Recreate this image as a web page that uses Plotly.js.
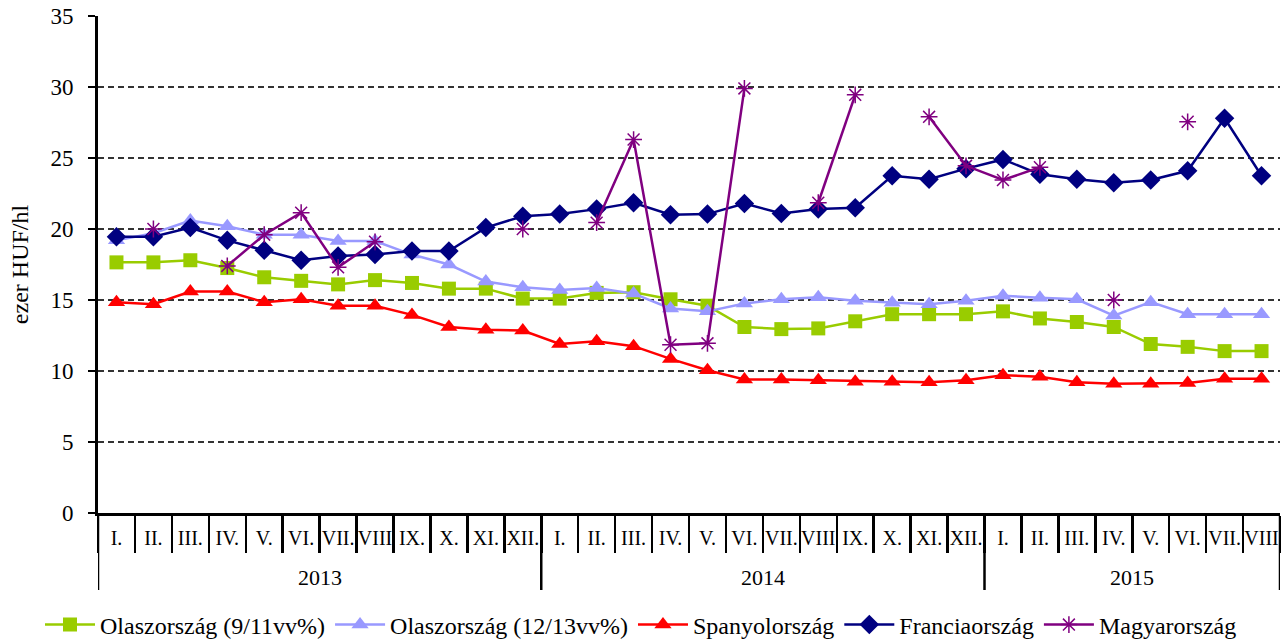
<!DOCTYPE html>
<html>
<head>
<meta charset="utf-8">
<script src="https://cdn.plot.ly/plotly-3.0.1.min.js"></script>
<style>html,body{margin:0;padding:0;background:#fff;}#chart{width:1284px;height:641px;}</style>
</head>
<body>
<div id="chart"></div>
<script>
const yearLabels = ["2013", "2014", "2015"];
const monthLabels2013 = ["I.","II.","III.","IV.","V.","VI.","VII.","VIII","IX.","X.","XI.","XII."];
const monthLabels2014 = ["I.","II.","III.","IV.","V.","VI.","VII.","VIII","IX.","X.","XI.","XII."];
const monthLabels2015 = ["I.","II.","III.","IV.","V.","VI.","VII.","VIII"];

const olasz911 = [17.65,17.65,17.8,17.25,16.6,16.35,16.1,16.4,16.2,15.8,15.8,15.1,
                  15.1,15.5,15.55,15.05,14.6,13.1,12.95,13.0,13.5,14.0,14.0,14.0,
                  14.2,13.7,13.45,13.1,11.9,11.7,11.4,11.4];
const olasz1213 = [19.2,19.7,20.6,20.2,19.6,19.6,19.15,19.15,18.2,17.5,16.3,15.9,
                   15.7,15.85,15.45,14.4,14.2,14.75,15.05,15.2,14.95,14.8,14.7,14.95,
                   15.3,15.15,15.05,13.9,14.85,14.0,14.0,14.0];
const spanyol = [14.85,14.7,15.6,15.6,14.85,15.05,14.6,14.6,13.95,13.1,12.9,12.85,
                 11.9,12.1,11.75,10.85,10.05,9.4,9.4,9.35,9.25,9.25,9.2,9.35,
                 9.7,9.6,9.2,9.1,9.1,9.15,9.45,9.45];
const francia = [19.45,19.45,20.1,19.2,18.5,17.8,18.1,18.2,18.45,18.45,20.1,20.9,
                 21.05,21.4,21.85,21.0,21.05,21.8,21.1,21.4,21.5,23.75,23.5,24.25,
                 24.9,23.85,23.5,23.25,23.45,24.1,27.8,23.75];
const magyar = [null,20.0,null,17.4,19.6,21.15,17.3,19.1,null,null,null,20.0,
                null,20.45,26.3,11.85,11.95,29.9,null,21.85,29.45,null,27.9,24.45,
                23.45,24.35,null,15.0,null,27.55,null,null];

const seriesNames = ["Olaszország (9/11vv%)", "Olaszország (12/13vv%)", "Spanyolország", "Franciaország", "Magyarország"];

// category positions built from the month lists
const monthGroups = [monthLabels2013, monthLabels2014, monthLabels2015];
const monthText = [].concat(...monthGroups);
const xIdx = monthText.map((_, i) => i);
const nCat = monthText.length;
const boundaries = Array.from({length: nCat + 1}, (_, i) => i - 0.5);
const yearBounds = [-0.5];
const yearCenters = [];
let acc = 0;
monthGroups.forEach(g => { yearCenters.push(acc + (g.length - 1) / 2); acc += g.length; yearBounds.push(acc - 0.5); });

function tr(y, name, color, symbol, size, extra) {
  const t = {
    type: "scatter", mode: "lines+markers", x: xIdx, y: y, name: name,
    line: {color: color, width: 2.5},
    marker: {color: color, symbol: symbol, size: size},
    connectgaps: false
  };
  return Object.assign(t, extra || {});
}

const data = [
  tr(olasz911, seriesNames[0], "#99CC00", "square", 14),
  tr(olasz1213, seriesNames[1], "#9999FF", "triangle-up", 15),
  tr(spanyol, seriesNames[2], "#FF0000", "triangle-up", 15),
  tr(francia, seriesNames[3], "#000080", "diamond", 15),
  tr(magyar, seriesNames[4], "#800080", "asterisk-open", 14,
     {marker: {color: "#800080", symbol: "asterisk-open", size: 14, line: {color: "#800080", width: 1.5}}})
];

const fam = "Liberation Serif, Times New Roman, serif";
const plotLeftPx = 98, plotWidthPx = 1182;
const plotBottomPx = 513, plotHeightPx = 497;
const py = px => -(px - plotBottomPx) / plotHeightPx;
const pxX = px => (px - plotLeftPx) / plotWidthPx;

const shapes = yearBounds.map(b => ({
  type: "line", xref: "x", yref: "paper", x0: b, x1: b, y0: 0, y1: py(590),
  line: {color: "#000", width: 2.5}
}));
const annotations = yearLabels.map((t, i) => ({
  text: t, xref: "x", yref: "paper", x: yearCenters[i], y: py(577),
  xanchor: "center", yanchor: "middle", showarrow: false,
  font: {family: fam, size: 22, color: "#000"}
}));

const layout = {
  width: 1284, height: 641,
  margin: {l: 98, r: 4, t: 16, b: 128, autoexpand: false},
  paper_bgcolor: "#fff", plot_bgcolor: "#fff",
  font: {family: fam, color: "#000", size: 20},
  showlegend: true,
  legend: {orientation: "h", x: pxX(40), xanchor: "left", y: py(625), yanchor: "middle",
           font: {family: fam, size: 24, color: "#000"}, traceorder: "normal", itemwidth: 50},
  shapes: shapes,
  annotations: annotations,
  xaxis: {
    range: [-0.5, nCat - 0.5], automargin: false,
    tickmode: "array", tickvals: xIdx, ticktext: monthText,
    ticks: "", tickangle: 0, ticklabelstandoff: 5,
    showline: true, linecolor: "#000", linewidth: 3,
    minor: {tickmode: "array", tickvals: boundaries, ticks: "outside", ticklen: 37, tickwidth: 2.5, tickcolor: "#000", showgrid: false},
    tickfont: {family: fam, size: 20, color: "#000"},
    showgrid: false, zeroline: false
  },
  yaxis: {
    range: [0, 35], dtick: 5, tick0: 0, automargin: false,
    showline: true, linecolor: "#000", linewidth: 3,
    ticks: "outside", ticklen: 7, tickwidth: 2, tickcolor: "#000",
    ticklabelstandoff: 10,
    showgrid: true, gridcolor: "#333", griddash: "6px,4px", gridwidth: 1.3,
    zeroline: false,
    tickfont: {family: fam, size: 23, color: "#000"},
    title: {text: "ezer HUF/hl", font: {family: fam, size: 24, color: "#000"}, standoff: 16}
  }
};

Plotly.newPlot("chart", data, layout, {displayModeBar: false, staticPlot: true});
</script>
</body>
</html>
